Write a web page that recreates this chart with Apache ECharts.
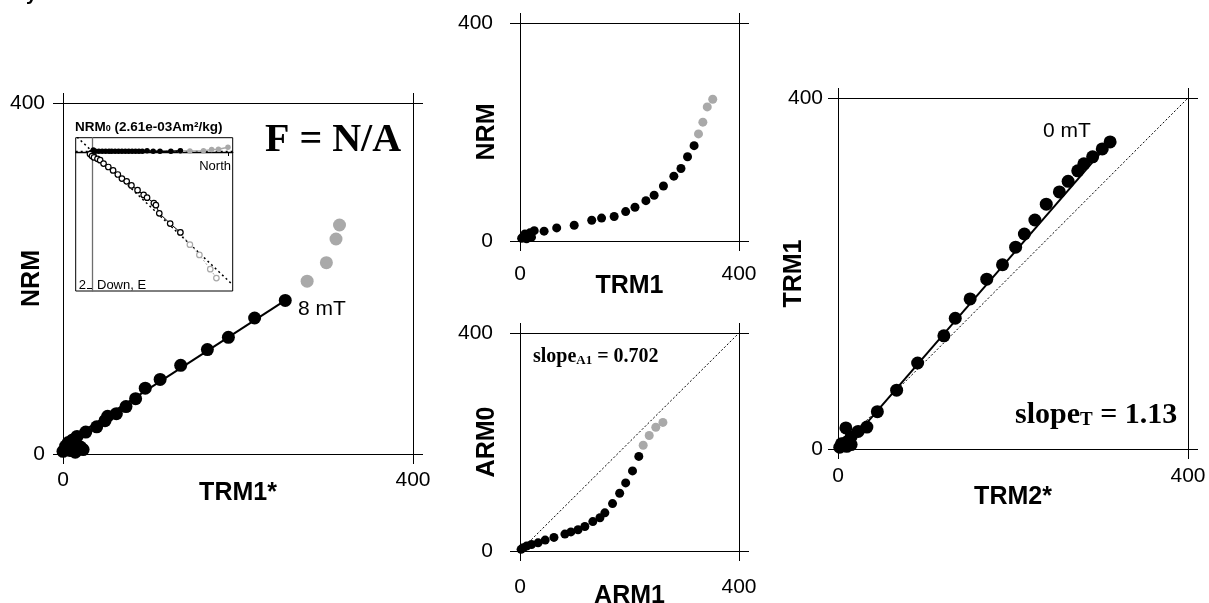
<!DOCTYPE html>
<html><head><meta charset="utf-8">
<script src="https://cdn.jsdelivr.net/npm/echarts@6/dist/echarts.min.js"></script>
<style>html,body{margin:0;padding:0;background:#fff}#c{width:1209px;height:603px}</style>
</head><body><div id="c"></div>
<script>
// ---------- data ----------
const axisRange = [0, 400];
// Left panel: TRM1* (x) vs NRM (y)
const leftBlack = [[0,3],[3,9],[6,13],[8,4],[11,16],[14,2],[16,20],[20,8],[23,5],[26,25],[38.5,31],[48,38],[51,43],[61,46],[72,54],[83,63],[94,75],[111,85],[134.5,101],[165,119],[189,133],[219,155],[254,175]];
const leftGrey = [[279,197],[301,218],[312,245],[316,261]];
const leftFit = [[3,13],[254,175]];
// Inset (Zijderveld): North (x) vs Down/East (y, downward positive)
const insetHorizBlack = [[-0.03,0.02],[0,0],[0.02,-0.03],[0.05,-0.01],[0.1,-0.01],[0.15,-0.01],[0.2,-0.01],[0.25,-0.01],[0.29,-0.01],[0.34,-0.01],[0.39,-0.01],[0.44,-0.01],[0.49,-0.01],[0.54,-0.01],[0.59,-0.01],[0.64,-0.01],[0.69,-0.01],[0.74,-0.01],[0.81,-0.02],[0.9,-0.01],[1.0,-0.01],[1.16,-0.01],[1.3,-0.02]];
const insetHorizGrey = [[1.3,-0.02],[1.44,-0.015],[1.64,-0.02],[1.76,-0.035],[1.86,-0.04],[2.0,-0.07]];
const insetVertBlack = [[-0.03,0.03],[0,0.06],[0.03,0.08],[0.08,0.1],[0.12,0.12],[0.17,0.17],[0.24,0.22],[0.31,0.27],[0.38,0.33],[0.44,0.39],[0.51,0.43],[0.58,0.49],[0.67,0.56],[0.76,0.63],[0.81,0.67],[0.91,0.75],[0.94,0.78],[0.99,0.9],[1.15,1.05],[1.3,1.18]];
const insetVertGrey = [[1.3,1.18],[1.44,1.36],[1.58,1.51],[1.74,1.72],[1.83,1.85]];
const insetFitVert = [[-0.22,-0.22],[2.06,1.94]];
const insetFitHoriz = [[-0.24,-0.01],[2.07,-0.01]];
const insetTick = [2];
// Top middle: TRM1 (x) vs NRM (y)
const tmBlack = [[318,175],[306,154.5],[294,133],[281,119],[262,101],[245,84],[230,74],[210,62],[193,54],[172,45],[149,42],[131,38],[99,29],[67,24],[44,18],[26,19],[18,15],[9,13],[6,8],[21,7],[3,5],[12,4]];
const tmGrey = [[352,260],[342,246],[334,218],[326,196.5]];
// Bottom middle: ARM1 (x) vs ARM0 (y)
const bmBlack = [[217,173.5],[205.5,147],[193,125],[182,106],[169,87],[155,70],[146,61],[133,54],[118.5,45],[106,39],[93,35],[82,31],[62,25],[46,20],[33,15],[21,12],[12,9],[6,6],[2,3]];
const bmGrey = [[261,236],[248,227],[236,212],[225,194]];
const oneToOne = [[0,0],[400,400]];
// Right: TRM2* (x) vs TRM1 (y)
const rtBlack = [[311,350],[302,342],[291,333],[281,325],[274,317],[263,305],[253,293],[238,279],[225,261],[213,245],[203,230],[188,210],[170,193.5],[151,171],[134,149],[121,129],[91,98],[67,67],[45,42.5],[33,25],[23,20],[15,14],[9,24],[10,8],[4,6],[10,3],[2,2],[15,5]];
const rtFit = [[8,1],[311,350]];

// ---------- layout ----------
const SANS = '"Liberation Sans", Arial, Helvetica, sans-serif';
const SERIF = '"Liberation Serif", "Times New Roman", serif';
const GREY = '#a9a9a9';
const panels = [
  {left:63, top:103, w:350, h:351, xName:'TRM1*', yName:'NRM', xGap:27, yGap:18, xMargin:16, yMargin:18},
  {left:520, top:23, w:219, h:218, xName:'TRM1', yName:'NRM', xGap:33, yGap:20, xMargin:23, yMargin:27},
  {left:520, top:333, w:219, h:218, xName:'ARM1', yName:'ARM0', xGap:33, yGap:20, xMargin:26, yMargin:27},
  {left:838, top:98, w:350, h:351, xName:'TRM2*', yName:'TRM1', xGap:36, yGap:31, xMargin:17, yMargin:15}
];
const grids = [], xAxes = [], yAxes = [];
const lineBase = {show:true, onZero:false, lineStyle:{color:'#000', width:1}};
const tickBase = {show:true, inside:false, length:10, lineStyle:{color:'#000', width:1}};
const nameStyle = {fontSize:25, fontWeight:'bold', fontFamily:SANS, color:'#000'};
panels.forEach((p, i) => {
  grids.push({left:p.left, top:p.top, width:p.w, height:p.h, show:false, containLabel:false, outerBoundsMode:'none'});
  const common = {gridIndex:i, type:'value', min:axisRange[0], max:axisRange[1], interval:axisRange[1]-axisRange[0],
    axisLine:lineBase, axisTick:tickBase, splitLine:{show:false}, nameMoveOverlap:false};
  xAxes.push(Object.assign({}, common, {position:'bottom', name:p.xName, nameLocation:'middle', nameGap:p.xGap, nameTextStyle:nameStyle,
    axisLabel:{show:true, margin:p.xMargin, fontSize:21, fontFamily:SANS, color:'#000'}}));
  xAxes.push(Object.assign({}, common, {position:'top', axisLabel:{show:false}}));
  yAxes.push(Object.assign({}, common, {position:'left', name:p.yName, nameLocation:'middle', nameGap:p.yGap, nameTextStyle:nameStyle,
    axisLabel:{show:true, margin:p.yMargin, fontSize:21, fontFamily:SANS, color:'#000'}}));
  yAxes.push(Object.assign({}, common, {position:'right', axisLabel:{show:false}}));
});
// inset grid (index 4), axes index 8
grids.push({left:75.7, top:137.7, width:157, height:153.3, show:true, backgroundColor:'#fff', borderColor:'#000', borderWidth:1, containLabel:false, outerBoundsMode:'none'});
xAxes.push({gridIndex:4, type:'value', min:-0.24, max:2.07, splitLine:{show:false},
  axisLine:{show:true, onZero:true, lineStyle:{color:'#000', width:1.3}},
  axisTick:{show:true, customValues:insetTick, length:4, lineStyle:{color:'#000'}}, axisLabel:{show:false}});
yAxes.push({gridIndex:4, type:'value', min:-0.21, max:2.04, inverse:true, splitLine:{show:false},
  axisLine:{show:true, onZero:true, lineStyle:{color:'#6e6e6e', width:1.3}},
  axisTick:{show:true, customValues:insetTick, length:5, lineStyle:{color:'#000'}},
  axisLabel:{show:false}});

function sc(pi, data, color, size, z) {
  return {type:'scatter', xAxisIndex:2*pi, yAxisIndex:2*pi, data, symbol:'circle', symbolSize:size,
    itemStyle:{color, opacity:1}, silent:true, z:z||3};
}
function ln(xi, yi, data, color, width, type, z) {
  return {type:'line', xAxisIndex:xi, yAxisIndex:yi, data, symbol:'none', silent:true,
    lineStyle:{color, width, type}, z:z||2};
}
const series = [
  ln(0,0,leftFit,'#000',2,'solid'),
  sc(0,leftGrey,GREY,13), sc(0,leftBlack,'#000',13),
  sc(1,tmGrey,GREY,9), sc(1,tmBlack,'#000',9),
  ln(4,4,oneToOne,'#000',1,[2,2]),
  sc(2,bmGrey,GREY,9), sc(2,bmBlack,'#000',9),
  ln(6,6,oneToOne,'#000',1,[2,2]),
  ln(6,6,rtFit,'#000',2,'solid'),
  sc(3,rtBlack,'#000',13),
  // inset
  ln(8,8,insetFitHoriz,'#000',1.3,[2,3],4),
  ln(8,8,insetFitVert,'#000',1.5,[2,3],4),
  {type:'line', xAxisIndex:8, yAxisIndex:8, data:insetHorizGrey, symbol:'circle', symbolSize:5.5, silent:true,
    lineStyle:{color:GREY, width:1.5}, itemStyle:{color:GREY}, z:5},
  {type:'line', xAxisIndex:8, yAxisIndex:8, data:insetHorizBlack, symbol:'circle', symbolSize:5.5, silent:true,
    lineStyle:{color:'#000', width:1.5}, itemStyle:{color:'#000'}, z:6},
  {type:'line', xAxisIndex:8, yAxisIndex:8, data:insetVertGrey, symbol:'circle', symbolSize:5.5, silent:true,
    lineStyle:{color:GREY, width:1, type:[2,2]}, itemStyle:{color:'#fff', borderColor:GREY, borderWidth:1.2}, z:5},
  {type:'line', xAxisIndex:8, yAxisIndex:8, data:insetVertBlack, symbol:'circle', symbolSize:5.5, silent:true,
    lineStyle:{color:'#000', width:1}, itemStyle:{color:'#fff', borderColor:'#000', borderWidth:1.2}, z:6}
];

const graphic = [
  {type:'text', x:26, y:4, style:{text:'y', fontSize:20, fontWeight:'bold', fontFamily:SANS, fill:'#000', verticalAlign:'bottom'}},
  {type:'text', x:298, y:309, z:10, style:{text:'8 mT', fontSize:21, fontFamily:SANS, fill:'#000', verticalAlign:'middle'}},
  {type:'text', x:1043, y:131, z:10, style:{text:'0 mT', fontSize:21, fontFamily:SANS, fill:'#000', verticalAlign:'middle'}},
  {type:'text', x:265, y:141, z:10, style:{text:'F = N/A', fontSize:40, fontWeight:'bold', fontFamily:SERIF, fill:'#000', verticalAlign:'middle'}},
  {type:'text', x:533, y:357, z:10, style:{text:'{a|slope}{b|A1}{a| = 0.702}', verticalAlign:'middle',
    rich:{a:{fontSize:20, fontWeight:'bold', fontFamily:SERIF, fill:'#000', lineHeight:20},
          b:{fontSize:13, fontWeight:'bold', fontFamily:SERIF, fill:'#000', lineHeight:6, verticalAlign:'bottom'}}}},
  {type:'text', x:1015, y:415, z:10, style:{text:'{a|slope}{b|T}{a| = 1.13}', verticalAlign:'middle',
    rich:{a:{fontSize:30, fontWeight:'bold', fontFamily:SERIF, fill:'#000', lineHeight:30},
          b:{fontSize:19, fontWeight:'bold', fontFamily:SERIF, fill:'#000', lineHeight:8, verticalAlign:'bottom'}}}},
  {type:'text', x:75, y:127, z:10, style:{text:'{a|NRM}{b|0}{a| (2.61e-03Am²/kg)}', verticalAlign:'middle',
    rich:{a:{fontSize:13.5, fontWeight:'bold', fontFamily:SANS, fill:'#000', lineHeight:13},
          b:{fontSize:9, fontWeight:'bold', fontFamily:SANS, fill:'#000', lineHeight:3, verticalAlign:'bottom'}}}},
  {type:'text', x:231, y:166, z:10, style:{text:'North', fontSize:13, fontFamily:SANS, fill:'#000', align:'right', verticalAlign:'middle'}},
  {type:'text', x:97, y:285, z:10, style:{text:'Down, E', fontSize:13, fontFamily:SANS, fill:'#000', verticalAlign:'middle'}},
  {type:'text', x:86, y:285, z:10, style:{text:'2', fontSize:13, fontFamily:SANS, fill:'#000', align:'right', verticalAlign:'middle'}}
];

const chart = echarts.init(document.getElementById('c'), null, {renderer:'canvas'});
chart.setOption({animation:false, backgroundColor:'#fff', grid:grids, xAxis:xAxes, yAxis:yAxes, series, graphic});
</script></body></html>
